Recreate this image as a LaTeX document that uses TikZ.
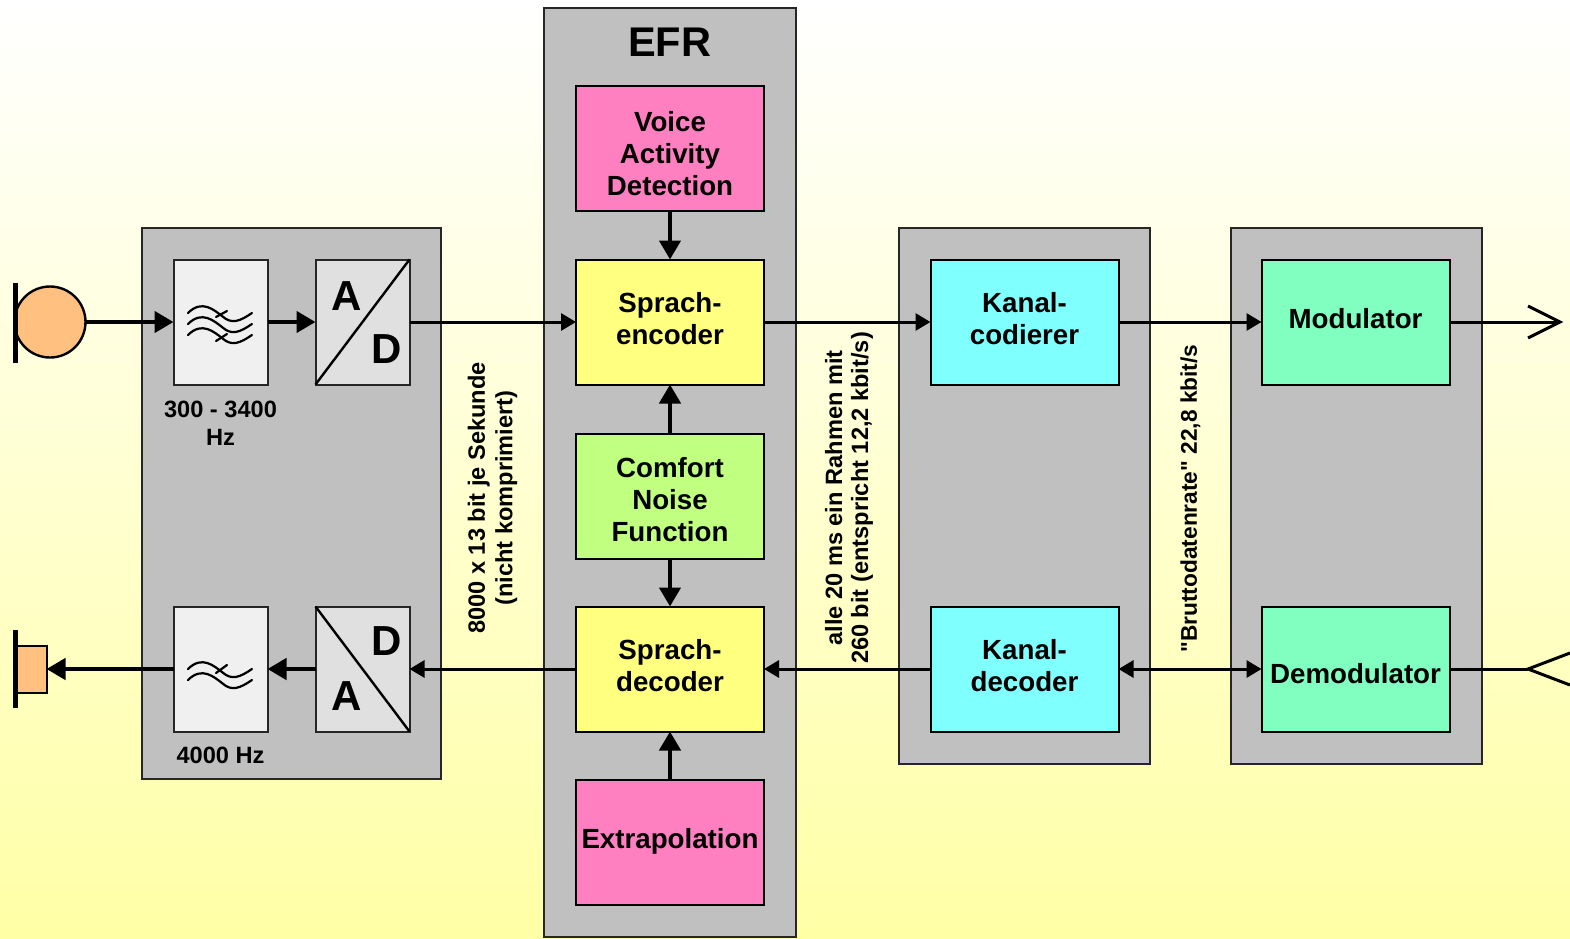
\documentclass[tikz,border=0pt]{standalone}
\usepackage{fontspec}
\setmainfont{Liberation Sans}
\newfontfamily\straightfont{Liberation Sans}
\usetikzlibrary{arrows.meta}
\definecolor{grp}{HTML}{C0C0C0}
\definecolor{pinkbox}{HTML}{FF80C0}
\definecolor{yellowbox}{HTML}{FFFF80}
\definecolor{limebox}{HTML}{C0FF80}
\definecolor{cyanbox}{HTML}{80FFFF}
\definecolor{greenbox}{HTML}{80FFC0}
\definecolor{orangebox}{HTML}{FFC080}
\tikzset{
	grpbox/.style={draw=black!85, line width=2pt, fill=grp, inner sep=0pt, outer sep=0pt},
	blockbox/.style={draw=black, line width=2pt, inner sep=0pt, outer sep=0pt, minimum width=188pt, minimum height=125pt},
	boxtext/.style={inner sep=0pt, align=center, font=\fontsize{27.7}{32}\selectfont\bfseries},
	smallbox/.style={draw=black!85, line width=2pt, inner sep=0pt, outer sep=0pt, minimum width=94pt, minimum height=125pt},
	caption/.style={inner sep=0pt, align=center, font=\fontsize{23.6}{28}\selectfont\bfseries},
	sidelabel/.style={inner sep=0pt, align=center, rotate=90, font=\fontsize{23.6}{27.5}\selectfont\bfseries},
	letter/.style={inner sep=0pt, font=\fontsize{42}{42}\selectfont\bfseries},
	thin arrow/.style={line width=3pt, -{Triangle[length=15pt,width=17pt]}},
	thick arrow/.style={line width=4.4pt, -{Triangle[length=19pt,width=21pt]}},
	wave/.style={line width=2.2pt, line cap=round},
	bar/.style={line width=4.5pt}
}
\begin{document}
\begin{tikzpicture}[x=1pt, y=-1pt]
	\def \top{ 322 }
	\def \bot{ 669 }
	\useasboundingbox (0,0) rectangle (1570,938);
	\shade[top color=white, bottom color=yellowbox!70!white] (0,0) rectangle (1570,938);
	% groups
	\node[grpbox, minimum width=299pt, minimum height=551pt] (wandler) at (291,503) {};
	\node[grpbox, minimum width=252pt, minimum height=929pt] (efr) at (669.5,472) {};
	\node[grpbox, minimum width=251pt, minimum height=536pt] (kanal) at (1024.5,495.5) {};
	\node[grpbox, minimum width=251pt, minimum height=536pt] (funk) at (1356,495.5) {};
	\node[inner sep=0pt, font=\fontsize{41.5}{41.5}\selectfont\bfseries] (efrtitle) at (669.5,42) {EFR};
	% EFR column
	\node[blockbox, fill=pinkbox] (vad) at (670,148.5) {};
	\node[blockbox, fill=yellowbox] (enc) at (670,\top) {};
	\node[blockbox, fill=limebox] (cnf) at (670,496) {};
	\node[blockbox, fill=yellowbox] (dec) at (670,\bot) {};
	\node[blockbox, fill=pinkbox] (extra) at (670,842.5) {};
	\node[boxtext] (vadT) at (670,154) {Voice\\Activity\\Detection};
	\node[boxtext] (encT) at (670,319) {Sprach-\\encoder};
	\node[boxtext] (cnfT) at (670,500) {Comfort\\Noise\\Function};
	\node[boxtext] (decT) at (670,666) {Sprach-\\decoder};
	\node[boxtext] (extraT) at (670,841.5) {Extrapolation};
	% channel and radio
	\node[blockbox, fill=cyanbox] (kanUp) at (1024.5,\top) {};
	\node[blockbox, fill=cyanbox] (kanDown) at (1024.5,\bot) {};
	\node[blockbox, fill=greenbox] (mod) at (1355.5,\top) {};
	\node[blockbox, fill=greenbox] (demod) at (1355.5,\bot) {};
	\node[boxtext] (kanUpT) at (1024.5,319) {Kanal-\\codierer};
	\node[boxtext] (kanDownT) at (1024.5,666) {Kanal-\\decoder};
	\node[boxtext] (modT) at (1355.5,319) {Modulator};
	\node[boxtext] (demodT) at (1355.5,674) {Demodulator};
	% filters and converters
	\node[smallbox, fill=black!6] (fltUp) at (220.5,\top) {};
	\node[smallbox, fill=black!12] (adUp) at (362.5,\top) {};
	\node[smallbox, fill=black!6] (fltDown) at (220.5,\bot) {};
	\node[smallbox, fill=black!12] (daDown) at (362.5,\bot) {};
	\draw[line width=2.4pt] (adUp.south west) -- (adUp.north east);
	\draw[line width=2.4pt] (daDown.north west) -- (daDown.south east);
	\node[letter] (a1) at (347,296) {A};
	\node[letter] (d1) at (386.5,349) {D};
	\node[letter] (d2) at (386.5,641) {D};
	\node[letter] (a2) at (347,696) {A};
	\foreach \off in {-9,2,13} {
		\draw[wave] (188,\top+\off) .. controls (202,\top+\off-14) and (214,\top+\off-3) .. (222,\top+\off+3) .. controls (232,\top+\off+12) and (240,\top+\off+8) .. (252,\top+\off);
	}
	\draw[wave] (216,317) -- (227,311);
	\draw[wave] (216,341) -- (227,334);
	\foreach \off in {0,11} {
		\draw[wave] (188,\bot+\off) .. controls (202,\bot+\off-14) and (214,\bot+\off-3) .. (222,\bot+\off+3) .. controls (232,\bot+\off+12) and (240,\bot+\off+8) .. (252,\bot+\off);
	}
	\draw[wave] (216,673) -- (227,665);
	\node[caption] (bandpass) at (220.5,423.5) {300 - 3400\\Hz};
	\node[caption] (lowpass) at (220.5,755.5) {4000 Hz};
	% microphone and speaker
	\node[circle, draw=black, line width=2.4pt, fill=orangebox, minimum size=71pt, inner sep=0pt, outer sep=0pt] (mic) at (50,\top) {};
	\draw[bar] (15.5,283) -- (15.5,363);
	\node[draw=black, line width=2pt, fill=orangebox, minimum width=31pt, minimum height=47pt, inner sep=0pt, outer sep=0pt] (spk) at (31,\bot) {};
	\draw[bar] (15.5,630) -- (15.5,708);
	% side labels
	\node[sidelabel] (lblA) at (492.5,498) {8000 x 13 bit je Sekunde\\(nicht komprimiert)};
	\node[sidelabel, font=\fontsize{23.6}{26}\selectfont\bfseries] (lblB) at (849,498) {alle 20 ms ein Rahmen mit\\260 bit (entspricht 12,2 kbit/s)};
	\node[sidelabel, font=\straightfont\fontsize{22.7}{26}\selectfont\bfseries] (lblC) at (1190.5,498.5) {"Bruttodatenrate" 22,8 kbit/s};
	% connectors
	\coordinate (tx) at (1560,\top);
	\coordinate (rx) at (1528,\bot);
	\draw[thick arrow] (vad) -- (enc);
	\draw[thick arrow] (cnf) -- (enc);
	\draw[thick arrow] (cnf) -- (dec);
	\draw[thick arrow] (extra) -- (dec);
	\draw[thick arrow] (mic) -- (fltUp);
	\draw[thick arrow] (fltUp) -- (adUp);
	\draw[thick arrow] (daDown) -- (fltDown);
	\draw[thick arrow] (fltDown) -- (spk);
	\draw[thin arrow] (adUp) -- (enc);
	\draw[thin arrow] (dec) -- (daDown);
	\draw[thin arrow] (enc) -- (kanUp);
	\draw[thin arrow] (kanDown) -- (dec);
	\draw[thin arrow] (kanUp) -- (mod);
	\draw[thin arrow, {Triangle[length=15pt,width=17pt]}-{Triangle[length=15pt,width=17pt]}] (kanDown) -- (demod);
	\draw[line width=3pt] (mod) -- (tx);
	\draw[line width=3pt] (demod) -- (rx);
	\draw[line width=3pt] (1528,306) -- (tx) -- (1528,338);
	\draw[line width=3pt] (1570,653) -- (rx) -- (1570,685);
\end{tikzpicture}
\end{document}
